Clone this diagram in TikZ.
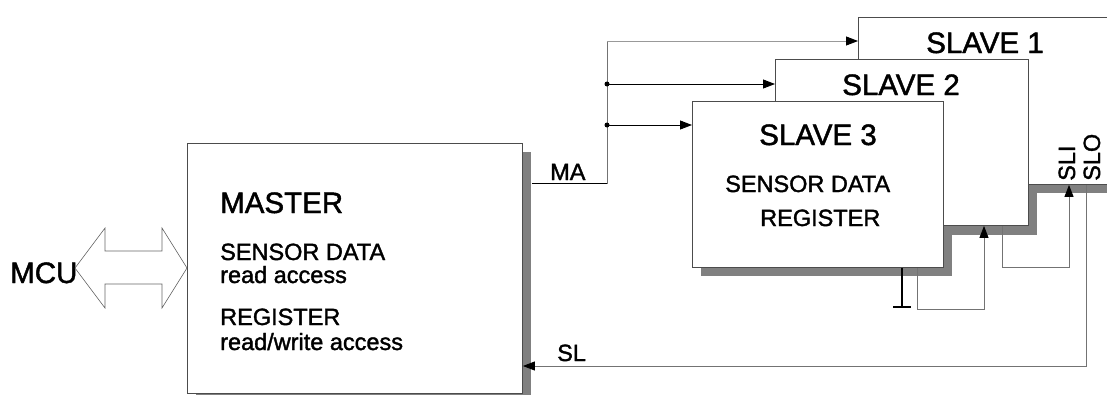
\documentclass[tikz,border=0pt]{standalone}
\usepackage{fontspec}
\setmainfont{Liberation Sans}[FakeBold=1.5]
\usetikzlibrary{arrows.meta}
\begin{document}
\begin{tikzpicture}[x=1pt,y=-1pt,
  box/.style={draw=black!70, line width=0.9pt, fill=white, inner sep=0pt, anchor=north west},
  shad/.style={fill=black!50, draw=none},
  ln/.style={draw=black!55, line width=0.9pt},
  blk/.style={draw=black, line width=0.9pt},
  arr/.style={-{Triangle[length=12pt,width=9pt,color=black]}},
  big/.style={font=\fontsize{29.5}{31}\selectfont, inner sep=0pt},
  small/.style={font=\fontsize{23.5}{25}\selectfont, inner sep=0pt},
  jdot/.style={circle, fill=black, inner sep=0pt, minimum size=5pt}]
\useasboundingbox (0,0) rectangle (1107,394);
\clip (0,0) rectangle (1107,394);
% shadows
\fill[shad] (196,152) rectangle (531,402);
\fill[shad] (867,26) rectangle (1130,193);
\fill[shad] (784,68) rectangle (1037,235);
\fill[shad] (701,110) rectangle (952,276);
% boxes
\node[box, minimum width=335pt, minimum height=250pt] (master) at (187,143) {};
\node[box, minimum width=270pt, minimum height=167pt] (s1) at (858,17) {};
\node[box, minimum width=253pt, minimum height=166pt] (s2) at (775,59) {};
\node[box, minimum width=251pt, minimum height=166pt] (s3) at (692,101) {};
% MCU double arrow
\node[big, anchor=base west] (mcu) at (10,283) {MCU};
\draw[draw=black!60, line width=0.6pt, fill=white]
  (75,268) -- (105,228) -- (105,251) -- (162,251) -- (162,228) -- (187,268)
  -- (162,308) -- (162,284) -- (105,284) -- (105,308) -- cycle;
% master texts
\node[big, anchor=base west] (mt) at (220,213) {MASTER};
\node[small, anchor=base west] (m1) at (220,260) {SENSOR DATA};
\node[small, anchor=base west] (m2) at (220,283) {read access};
\node[small, anchor=base west] (m3) at (220,325) {REGISTER};
\node[small, anchor=base west] (m4) at (220,350) {read/write access};
% slave texts
\node[big, anchor=base] (s1t) at (985,53) {SLAVE 1};
\node[big, anchor=base] (s2t) at (901,95) {SLAVE 2};
\node[big, anchor=base] (s3t) at (818,145) {SLAVE 3};
\node[small, anchor=base west] (s3a) at (725,192) {SENSOR DATA};
\node[small, anchor=base west] (s3b) at (760,226) {REGISTER};
% MA bus
\coordinate (ma0) at (607,183);
\coordinate (ma1) at (607,41);
\coordinate (ma2) at (607,84);
\coordinate (ma3) at (607,125);
\node[small, anchor=base west] (malbl) at (550,180) {MA};
\draw[ln] ([xshift=9pt]master.east |- ma0) -- (ma0) -- (ma1);
\draw[blk] ([xshift=9pt]master.east |- ma0) -- (ma0);
\draw[draw=black!40, line width=0.9pt, arr] (ma1) -- (s1.west |- ma1);
\draw[blk, arr] (ma2) -- (s2.west |- ma2);
\draw[blk, arr] (ma3) -- (s3.west |- ma3);
\node[jdot] (j2) at (ma2) {};
\node[jdot] (j3) at (ma3) {};
% termination below slave 3
\coordinate (t1) at (902,307);
\draw[draw=black, line width=1.3pt] (t1 |- s3.south) -- (t1);
\draw[draw=black, line width=1.6pt] ([xshift=-9pt]t1) -- ([xshift=9pt]t1);
% daisy chain
\coordinate (c1) at (917,309);
\coordinate (c2) at (984,309);
\draw[ln, arr] (c1 |- s3.south) -- (c1) -- (c2) -- (c2 |- s2.south);
\coordinate (d1) at (1002,267);
\coordinate (d2) at (1069,267);
\draw[ln, arr] (d1 |- s2.south) -- (d1) -- (d2) -- (d2 |- s1.south);
\coordinate (e1) at (1086,366);
\draw[ln, arr] (e1 |- s1.south) -- (e1) -- (master.east |- e1);
\node[small, anchor=base west] (sllbl) at (557,361) {SL};
\node[small, rotate=90, anchor=base west] (sli) at (1075,181) {SLI};
\node[small, rotate=90, anchor=base west] (slo) at (1100,181) {SLO};
\end{tikzpicture}
\end{document}
